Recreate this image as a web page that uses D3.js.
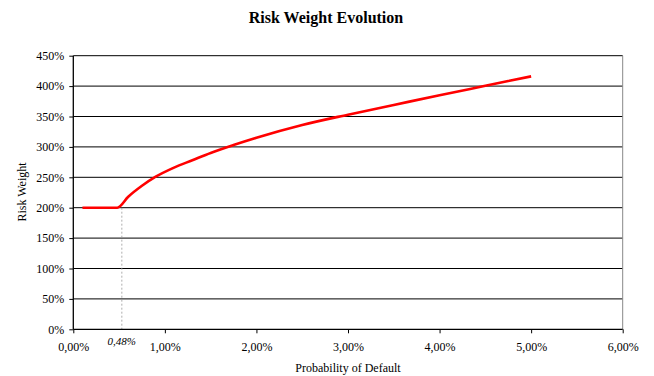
<!DOCTYPE html>
<html>
<head>
<meta charset="utf-8">
<script src="https://cdn.jsdelivr.net/npm/d3@7"></script>
<style>
  html, body { margin: 0; padding: 0; background: #fff; }
  svg { display: block; font-family: "Liberation Serif", "Times New Roman", serif; }
  svg text { font-family: "Liberation Serif", "Times New Roman", serif; }
</style>
</head>
<body>
<svg id="chart" width="654" height="376"></svg>
<script>
// ---- data ----
const pd = [0.1, 0.2, 0.3, 0.4, 0.48, 0.6, 0.75, 0.9, 1.1, 1.3, 1.5, 1.75, 2.0, 2.5, 3.0, 3.5, 4.0, 4.5, 5.0];
const riskWeight = [200, 200, 200, 200, 200, 218, 236, 251, 266, 278, 290, 303, 315, 336, 353, 369, 385, 400.5, 416];
const xTicks = [0, 1, 2, 3, 4, 5, 6];
const yTicks = [0, 50, 100, 150, 200, 250, 300, 350, 400, 450];
const markerPd = 0.53;
const markerLabel = "0,48%";
const markerRw = 200;
const title = "Risk Weight Evolution";
const xTitle = "Probability of Default";
const yTitle = "Risk Weight";

const FONT = "'Liberation Serif', 'Times New Roman', serif";
const svg = d3.select("#chart");
const x = d3.scaleLinear().domain([0, 6]).range([73.3, 622.7]);
const y = d3.scaleLinear().domain([0, 450]).range([329.3, 55.7]);
const fmt = v => v.toFixed(2).replace(".", ",") + "%";

// gridlines
svg.append("g").selectAll("line").data(yTicks.filter(d => d > 0)).join("line")
  .attr("x1", x(0)).attr("x2", x(6))
  .attr("y1", d => y(d)).attr("y2", d => y(d))
  .attr("stroke", "#000").attr("stroke-width", 1);

// right border
svg.append("line").attr("x1", x(6)).attr("x2", x(6)).attr("y1", y(450)).attr("y2", y(0))
  .attr("stroke", "#888").attr("stroke-width", 1);

// marker dashed line
svg.append("line").attr("x1", x(markerPd)).attr("x2", x(markerPd))
  .attr("y1", y(markerRw)).attr("y2", y(0))
  .attr("stroke", "#999").attr("stroke-width", 0.8).attr("stroke-dasharray", "2,2");

// axes
const xAxis = svg.append("g").attr("transform", `translate(0,${y(0)})`)
  .call(d3.axisBottom(x).tickValues(xTicks).tickFormat(fmt).tickSize(4).tickPadding(6));
const yAxis = svg.append("g").attr("transform", `translate(${x(0)},0)`)
  .call(d3.axisLeft(y).tickValues(yTicks).tickFormat(d => d + "%").tickSize(4).tickPadding(5));
[xAxis, yAxis].forEach(g => {
  g.attr("font-family", FONT).attr("font-size", 12);
  g.select(".domain").attr("stroke", "#000").attr("stroke-width", 1.3);
  g.selectAll(".tick line").attr("stroke", "#000");
  g.selectAll("text").style("font-family", FONT).style("font-size", "12px").attr("fill", "#000");
});
xAxis.select(".domain").attr("d", `M${x(0)},0H${x(6)}`);
yAxis.select(".domain").attr("d", `M0,${y(0)}V${y(450)}`);
xAxis.selectAll("text").attr("dy", "0.95em");

// line
svg.append("path").datum(pd.map((p, i) => [p, riskWeight[i]]))
  .attr("fill", "none").attr("stroke", "#ff0000").attr("stroke-width", 2.6)
  .attr("stroke-linejoin", "round")
  .attr("d", d3.line().x(d => x(d[0])).y(d => y(d[1])).curve(d3.curveMonotoneX));

// marker label
svg.append("text").attr("x", x(markerPd)).attr("y", 345)
  .attr("text-anchor", "middle").style("font-size", "11px").style("font-style", "italic")
  .text(markerLabel);

// titles
svg.append("text").attr("x", 326).attr("y", 23).attr("text-anchor", "middle")
  .style("font-size", "16px").style("font-weight", "bold").text(title);
svg.append("text").attr("x", 348).attr("y", 372).attr("text-anchor", "middle")
  .style("font-size", "12px").text(xTitle);
svg.append("text").attr("transform", "translate(26,192) rotate(-90)").attr("text-anchor", "middle")
  .style("font-size", "12px").text(yTitle);
</script>
</body>
</html>
